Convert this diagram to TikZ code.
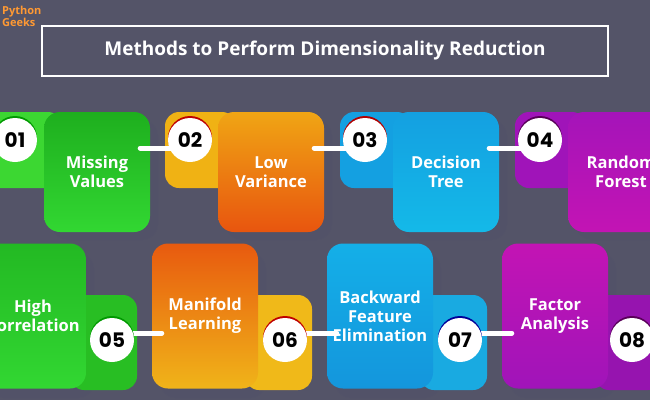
\documentclass[tikz,border=0pt]{standalone}
\usepackage{fontspec}
\setmainfont{Open Sans}
\newfontfamily\numfont{Poppins}
\begin{document}
\begin{tikzpicture}[x=1pt,y=-1pt,
  mainbox/.style={rounded corners=16pt,minimum width=106pt,align=center,text=white,font=\bfseries\fontsize{16.5}{19}\selectfont,inner sep=0pt},
  shadowbox/.style={fill=black!45!blue!20!gray!80!black,rounded corners=16pt,opacity=0.55},
  numc/.style={circle,fill=white,minimum size=44pt,inner sep=0pt,font=\numfont\bfseries\fontsize{20}{20}\selectfont},
  conn/.style={white,line width=5pt,line cap=round}]
\definecolor{bg}{RGB}{84,84,104}
\fill[bg] (0,0) rectangle (650,400);
\useasboundingbox (0,0) rectangle (650,400);
\clip (0,0) rectangle (650,400);
% title
\node[draw=white,line width=1.2pt,minimum width=566pt,minimum height=50pt,text=white,font=\bfseries\fontsize{19}{21}\selectfont] (title) at (325,51) {Methods to Perform Dimensionality Reduction};
\node[font=\bfseries\fontsize{11}{12}\selectfont,text=orange!80!white,align=left,inner sep=0pt,anchor=north west] (logo) at (2,6) {Python\\Geeks};
% shadows
\foreach \x in {97,271,446,621} {\fill[shadowbox] (\x-45,120) rectangle (\x+61,240);}
\foreach \x in {33,205,380,555} {\fill[shadowbox] (\x-45,253) rectangle (\x+61,398);}
% top tabs
\fill[rounded corners=14pt,color={rgb,255:red,60;green,215;blue,50}] (-20,112) rectangle (62,188);
\fill[rounded corners=14pt,color={rgb,255:red,240;green,178;blue,20}] (165,112) rectangle (236,188);
\fill[rounded corners=14pt,color={rgb,255:red,20;green,160;blue,225}] (340,112) rectangle (411,188);
\fill[rounded corners=14pt,color={rgb,255:red,160;green,20;blue,185}] (515,112) rectangle (586,188);
% top mains
\node[mainbox,minimum height=120pt,top color={rgb,255:red,30;green,175;blue,30},bottom color={rgb,255:red,50;green,215;blue,50}] (m1) at (97,172) {Missing\\Values};
\node[mainbox,minimum height=120pt,top color={rgb,255:red,240;green,165;blue,20},bottom color={rgb,255:red,232;green,85;blue,15}] (m2) at (271,172) {Low\\Variance};
\node[mainbox,minimum height=120pt,top color={rgb,255:red,20;green,160;blue,225},bottom color={rgb,255:red,20;green,185;blue,232}] (m3) at (446,172) {Decision\\Tree};
\node[mainbox,minimum height=120pt,top color={rgb,255:red,165;green,20;blue,185},bottom color={rgb,255:red,195;green,20;blue,180}] (m4) at (621,172) {Random\\Forest};
% bottom tabs
\fill[rounded corners=14pt,color={rgb,255:red,40;green,190;blue,35}] (70,295) rectangle (137,390);
\fill[rounded corners=14pt,color={rgb,255:red,240;green,185;blue,25}] (245,295) rectangle (312,390);
\fill[rounded corners=14pt,color={rgb,255:red,25;green,170;blue,225}] (420,295) rectangle (487,390);
\fill[rounded corners=14pt,color={rgb,255:red,150;green,20;blue,175}] (595,295) rectangle (662,390);
% bottom mains
\node[mainbox,minimum height=145pt,top color={rgb,255:red,35;green,185;blue,35},bottom color={rgb,255:red,50;green,215;blue,50}] (m5) at (33,316) {High\\Correlation};
\node[mainbox,minimum height=145pt,top color={rgb,255:red,232;green,90;blue,15},bottom color={rgb,255:red,240;green,180;blue,25}] (m6) at (205,316) {Manifold\\Learning};
\node[mainbox,minimum height=145pt,top color={rgb,255:red,20;green,175;blue,232},bottom color={rgb,255:red,20;green,150;blue,220}] (m7) at (380,316) {Backward\\Feature\\Elimination};
\node[mainbox,minimum height=145pt,top color={rgb,255:red,195;green,20;blue,180},bottom color={rgb,255:red,160;green,20;blue,185}] (m8) at (555,316) {Factor\\Analysis};
% circles positions
\coordinate (p1) at (15,140); \coordinate (p2) at (190,140); \coordinate (p3) at (365,140); \coordinate (p4) at (540,140);
\coordinate (p5) at (112,340); \coordinate (p6) at (285,340); \coordinate (p7) at (460,340); \coordinate (p8) at (632,340);
% connectors
\draw[conn] ([xshift=-10pt]m1.east |- 0,148) -- (p2 |- 0,148);
\draw[conn] ([xshift=-10pt]m2.east |- 0,148) -- (p3 |- 0,148);
\draw[conn] ([xshift=-10pt]m3.east |- 0,148) -- (p4 |- 0,148);
\draw[conn] (p5 |- 0,333) -- ([xshift=10pt]m6.west |- 0,333);
\draw[conn] (p6 |- 0,333) -- ([xshift=10pt]m7.west |- 0,333);
\draw[conn] (p7 |- 0,333) -- ([xshift=10pt]m8.west |- 0,333);
% circle rims
\fill[green!60!black] ([yshift=2pt]p1) circle (22pt);
\fill[red!75!black] ([yshift=2pt]p2) circle (22pt);
\fill[red!70!black] ([yshift=2pt]p3) circle (22pt);
\fill[violet!70!black] ([yshift=2pt]p4) circle (22pt);
\fill[green!60!black] ([yshift=2pt]p5) circle (22pt);
\fill[red!75!black] ([yshift=2pt]p6) circle (22pt);
\fill[blue!60!black] ([yshift=2pt]p7) circle (22pt);
\fill[violet!70!black] ([yshift=2pt]p8) circle (22pt);
\node[numc] (c1) at (p1) {01};
\node[numc] (c2) at (p2) {02};
\node[numc] (c3) at (p3) {03};
\node[numc] (c4) at (p4) {04};
\node[numc] (c5) at (p5) {05};
\node[numc] (c6) at (p6) {06};
\node[numc] (c7) at (p7) {07};
\node[numc] (c8) at (p8) {08};
\end{tikzpicture}
\end{document}
